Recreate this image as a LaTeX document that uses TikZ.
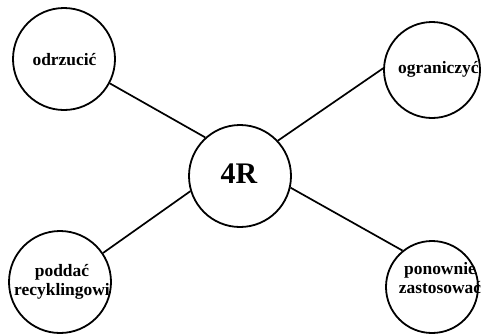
\documentclass[tikz,border=0pt]{standalone}
\usepackage{fontspec}
\setmainfont{Liberation Serif}
\begin{document}
\begin{tikzpicture}[x=1bp,y=-1bp,
  ring/.style={circle,draw=black,line width=1.8bp,inner sep=0pt,fill=white},
  link/.style={draw=black,line width=1.7bp},
  word/.style={inner sep=0pt,anchor=base,align=center,
    font=\fontsize{17.5}{18.5}\selectfont\bfseries},
  hub/.style={inner sep=0pt,anchor=base,font=\fontsize{30}{32}\selectfont\bfseries}]
  \useasboundingbox (0,0) rectangle (483,333);
  % circles
  \node[ring,minimum size=102bp] (c)  at (240,176) {};
  \node[ring,minimum size=102bp] (tl) at (64,59)   {};
  \node[ring,minimum size=96bp]  (tr) at (432,70)  {};
  \node[ring,minimum size=102bp] (bl) at (60,282)  {};
  \node[ring,minimum size=92bp]  (br) at (432,287) {};
  % spokes
  \draw[link] (c.132) -- (tl.332);
  \draw[link] (c.43)  -- (tr.178);
  \draw[link] (c.197) -- (bl.34);
  \draw[link] (c.347) -- (br.129);
  % labels (base of a two-line label is its last line)
  \node[hub]  (t0) at (239,183) {4R};
  \node[word] (t1) at (64.5,65) {odrzucić};
  \node[word,anchor=base west] (t2) at (398,73) {ograniczyć};
  \node[word] (t3) at (62,295) {poddać\\recyklingowi};
  \node[word] (t4) at (440,293) {ponownie\\zastosować};
\end{tikzpicture}
\end{document}
